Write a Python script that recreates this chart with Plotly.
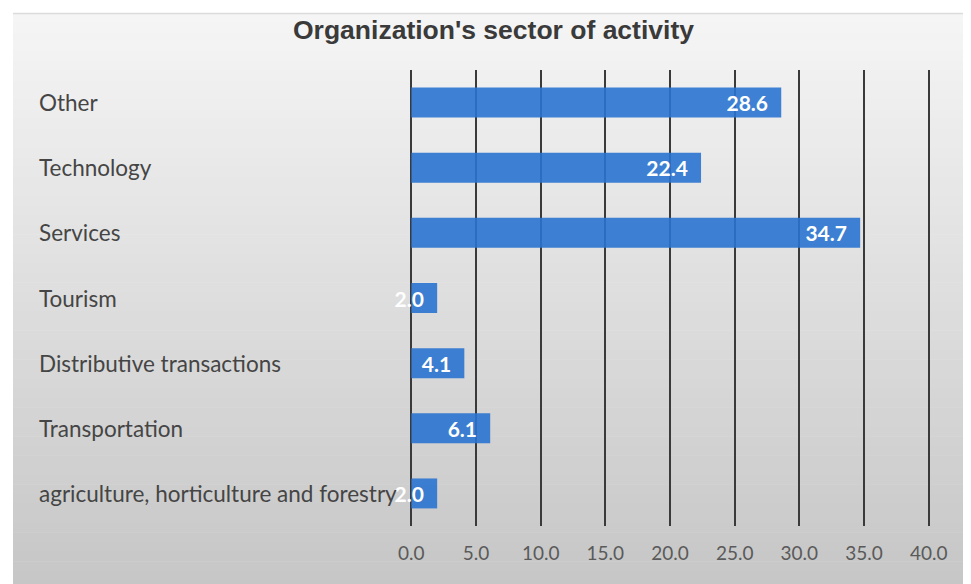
import plotly.graph_objects as go

categories = ["Other", "Technology", "Services", "Tourism",
              "Distributive transactions", "Transportation",
              "agriculture, horticulture and forestry"]
values = [28.6, 22.4, 34.7, 2.0, 4.1, 6.1, 2.0]
tick_vals = [0, 5, 10, 15, 20, 25, 30, 35, 40]
tick_text = ["0.0", "5.0", "10.0", "15.0", "20.0", "25.0", "30.0", "35.0", "40.0"]
title_text = "Organization's sector of activity"

OFF = 8  # default page body margin
W, H = 971 - OFF, 584 - OFF
L, R, T, B = 410 - OFF, 41, 70 - OFF, 58
pw, ph = W - L - R, H - T - B

def px_to_paper_x(x):
    return (x - OFF - L) / pw

def px_to_paper_y(y):
    return (H - B - (y - OFF)) / ph

fig = go.Figure()
fig.add_trace(go.Bar(
    y=categories, x=values, orientation="h",
    marker=dict(color="#2a73cf", opacity=0.9, line=dict(width=0)),
    texttemplate="%{x:.1f}&nbsp;&nbsp;", textposition="inside", insidetextanchor="end",
    textangle=0, constraintext="none", cliponaxis=False,
    textfont=dict(family="Lato", size=21, color="white", weight="bold"),
    hoverinfo="skip",
))

shapes = []
n = 60
top, bottom = 13, 590
for i in range(n):
    y0 = top + (bottom - top) * i / n
    y1 = top + (bottom - top) * (i + 1) / n + 0.5
    t = i / (n - 1)
    c = int(round(245 - t * (245 - 198)))
    shapes.append(dict(type="rect", xref="paper", yref="paper",
                       x0=px_to_paper_x(13), x1=px_to_paper_x(980),
                       y0=px_to_paper_y(y1), y1=px_to_paper_y(y0),
                       fillcolor=f"rgb({c},{c},{c})", line=dict(width=0), layer="below"))
shapes.append(dict(type="line", xref="paper", yref="paper",
                   x0=px_to_paper_x(13), x1=px_to_paper_x(980),
                   y0=px_to_paper_y(13.5), y1=px_to_paper_y(13.5),
                   line=dict(color="#dcdcdc", width=1.5), layer="below"))

annotations = []
for cat in categories:
    annotations.append(dict(x=px_to_paper_x(37), xref="paper", y=cat, yref="y",
                            text=cat, showarrow=False, xanchor="left", yanchor="middle",
                            font=dict(family="Lato", size=22.5, color="#454545")))
annotations.append(dict(x=px_to_paper_x(493), xref="paper", y=px_to_paper_y(30), yref="paper",
                        text=f"<b>{title_text}</b>", showarrow=False,
                        xanchor="center", yanchor="middle",
                        font=dict(family="Liberation Sans", size=26.5, color="#3a3a3a")))

fig.update_layout(
    width=W, height=H,
    margin=dict(l=L, r=R, t=T, b=B),
    paper_bgcolor="white", plot_bgcolor="rgba(0,0,0,0)",
    showlegend=False, bargap=0.54,
    shapes=shapes, annotations=annotations,
    xaxis=dict(range=[-0.1, 40.1], tickvals=tick_vals, ticktext=tick_text,
               showgrid=True, gridcolor="#3a3a3a", gridwidth=2,
               zeroline=False, showline=False, ticks="",
               tickfont=dict(family="Lato", size=19, color="#5a5a5a"),
               ticklabelstandoff=14, fixedrange=True),
    yaxis=dict(autorange="reversed", showticklabels=False, showgrid=False,
               zeroline=False, showline=False, ticks="", fixedrange=True),
)

fig.write_html("out.html")
